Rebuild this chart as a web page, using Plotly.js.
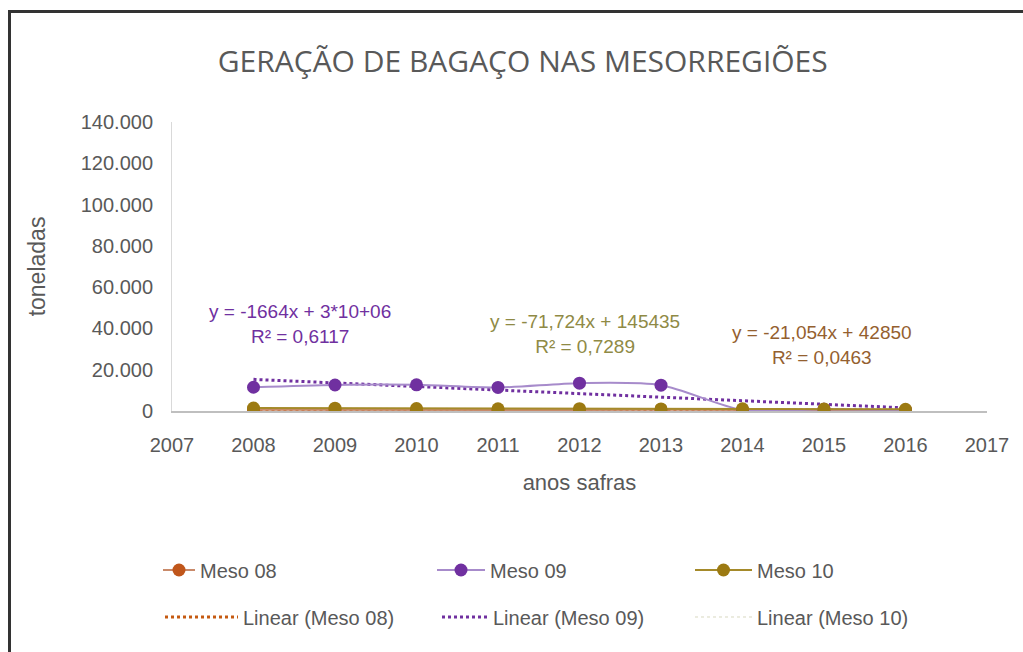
<!DOCTYPE html>
<html>
<head>
<meta charset="utf-8">
<script src="https://cdn.plot.ly/plotly-3.0.1.min.js"></script>
<style>
  html, body { margin:0; padding:0; background:#fff; overflow:hidden; }
  #chart { width:1023px; height:652px; }
  #frame { position:absolute; left:8px; top:10px; width:1100px; height:700px;
           border-left:3px solid #333; border-top:3px solid #333; pointer-events:none; }
</style>
</head>
<body>
<div id="chart"></div>
<div id="frame"></div>
<script>
// ---- data ----
const years   = [2008, 2009, 2010, 2011, 2012, 2013, 2014, 2015, 2016];
const meso08  = [550, 450, 600, 400, 500, 550, 450, 400, 500];
const meso09  = [11500, 12600, 12700, 11400, 13500, 12500, 500, 800, 300];
const meso10  = [1450, 1350, 1200, 1050, 1150, 1000, 1050, 1000, 800];
const seriesNames = ["Meso 08", "Meso 09", "Meso 10"];
const trendNames  = ["Linear (Meso 08)", "Linear (Meso 09)", "Linear (Meso 10)"];
const eqTexts = [
  "y = -1664x + 3*10+06<br>R² = 0,6117",
  "y = -71,724x + 145435<br>R² = 0,7289",
  "y = -21,054x + 42850<br>R² = 0,0463"
];
const yTickVals  = [0, 20000, 40000, 60000, 80000, 100000, 120000, 140000];
const yTickTexts = ["0", "20.000", "40.000", "60.000", "80.000", "100.000", "120.000", "140.000"];
const xTickVals  = [2007, 2008, 2009, 2010, 2011, 2012, 2013, 2014, 2015, 2016, 2017];

// least-squares linear trend computed from the data
function linfit(xs, ys) {
  const n = xs.length;
  const mx = xs.reduce((a,b)=>a+b,0)/n, my = ys.reduce((a,b)=>a+b,0)/n;
  let sxy = 0, sxx = 0;
  for (let i=0;i<n;i++){ sxy += (xs[i]-mx)*(ys[i]-my); sxx += (xs[i]-mx)*(xs[i]-mx); }
  const b = sxy/sxx, a = my - b*mx;
  return xs.map(x => a + b*x);
}

const NARROW = "Liberation Sans, Arial, sans-serif";
const GREY = "#595959";

const traces = [
  // trend lines (drawn under the series)
  { x: years, y: linfit(years, meso08), name: trendNames[0], mode: "lines",
    line: { color: "#C55A11", width: 3, dash: "dot" }, legend: "legend4" },
  { x: years, y: linfit(years, meso09), name: trendNames[1], mode: "lines",
    line: { color: "#7030A0", width: 3, dash: "dot" }, legend: "legend5" },
  { x: years, y: linfit(years, meso10), name: trendNames[2], mode: "lines",
    line: { color: "#D8D8C0", width: 1, dash: "dot" }, legend: "legend6" },
  // series
  { x: years, y: meso08, name: seriesNames[0], mode: "lines+markers",
    line: { color: "#C98A6A", width: 2 }, marker: { color: "#C0561B", size: 13 },
    legend: "legend" },
  { x: years, y: meso09, name: seriesNames[1], mode: "lines+markers",
    line: { color: "#A78BCB", width: 2, shape: "spline", smoothing: 0.8 },
    marker: { color: "#7030A0", size: 13 }, legend: "legend2" },
  { x: years, y: meso10, name: seriesNames[2], mode: "lines+markers",
    line: { color: "#A58A2A", width: 2 }, marker: { color: "#9C7A12", size: 13 },
    legend: "legend3" }
];

const annColors = ["#7030A0", "#8F8A45", "#94602F"];
const annPos = [[2008.57, 42000], [2012.07, 37300], [2014.98, 32000]];

function leg(xpx, ypx, iw) {
  return {
    orientation: "h", xref: "container", yref: "container",
    x: xpx / 1023, y: ypx, xanchor: "left", yanchor: "middle", itemwidth: iw,
    font: { family: NARROW, size: 20, color: GREY }
  };
}

const layout = {
  width: 1023, height: 652,
  paper_bgcolor: "#fff", plot_bgcolor: "#fff",
  margin: { l: 172, r: 36, t: 122, b: 241, autoexpand: false },
  title: { text: "GERAÇÃO DE BAGAÇO NAS MESORREGIÕES", x: 0.511, xanchor: "center",
           y: 0.905, yanchor: "middle",
           font: { family: "Open Sans, sans-serif", size: 30, color: GREY } },
  xaxis: {
    range: [2007, 2017], tickvals: xTickVals, ticktext: xTickVals.map(String),
    showgrid: false, zeroline: false, showline: true, linecolor: "#BFBFBF", linewidth: 1.5,
    ticks: "", ticklabelstandoff: 15,
    tickfont: { family: NARROW, size: 20, color: GREY },
    title: { text: "anos safras", standoff: 20, font: { family: NARROW, size: 22, color: GREY } }
  },
  yaxis: {
    range: [0, 140000], tickvals: yTickVals, ticktext: yTickTexts,
    showgrid: false, zeroline: false, showline: true, linecolor: "#D9D9D9", linewidth: 1,
    ticks: "", ticklabelstandoff: 14,
    tickfont: { family: NARROW, size: 20, color: GREY },
    title: { text: "toneladas", standoff: 28, font: { family: NARROW, size: 23, color: GREY } }
  },
  showlegend: true,
  legend:  leg(158, 0.1258, 32),
  legend2: leg(432, 0.1258, 48),
  legend3: leg(690, 0.1258, 57),
  legend4: leg(160, 0.0537, 73),
  legend5: leg(437, 0.0537, 46),
  legend6: leg(690, 0.0537, 57),
  annotations: eqTexts.map((t, i) => ({
    x: annPos[i][0], y: annPos[i][1], xref: "x", yref: "y", text: t, showarrow: false,
    align: "center", font: { family: NARROW, size: 19, color: annColors[i] }
  }))
};

Plotly.newPlot("chart", traces, layout, { staticPlot: true, displayModeBar: false });
</script>
</body>
</html>
